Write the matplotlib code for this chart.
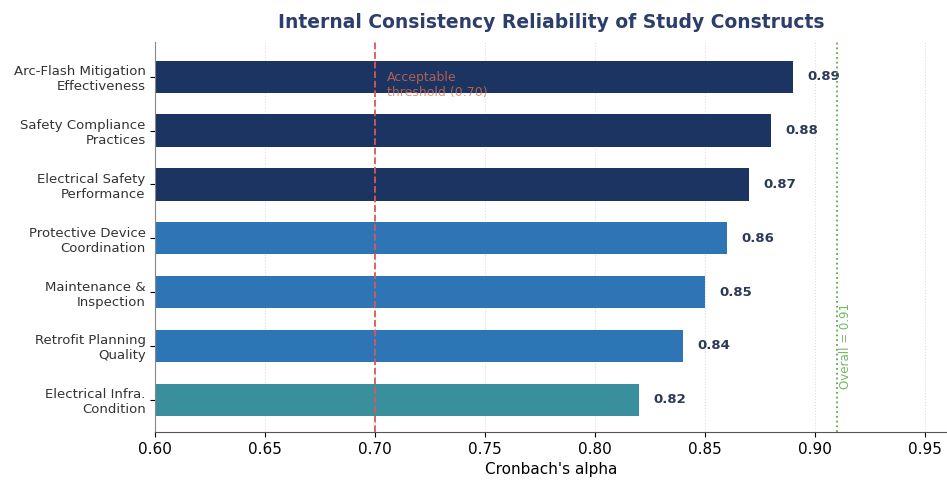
import matplotlib.pyplot as plt

constructs = ['Electrical Infra.\nCondition', 'Retrofit Planning\nQuality', 'Maintenance &\nInspection',
              'Protective Device\nCoordination', 'Electrical Safety\nPerformance', 'Safety Compliance\nPractices',
              'Arc-Flash Mitigation\nEffectiveness']
alphas = [0.82, 0.84, 0.85, 0.86, 0.87, 0.88, 0.89]
bar_colors = ['#3a8f9e', '#2e75b6', '#2e75b6', '#2e75b6', '#1c3461', '#1c3461', '#1c3461']
threshold = 0.70
overall = 0.91

fig = plt.figure(figsize=(9.47, 4.86), dpi=100)
ax = fig.add_axes([0.164, 0.111, 0.836, 0.803])

ax.barh(range(len(alphas)), alphas, height=0.6, color=bar_colors, zorder=2)
for i, v in enumerate(alphas):
    ax.text(v + 0.0065, i, f'{v:.2f}', va='center', ha='left', fontsize=9.5,
            fontweight='bold', color='#2b3a58')

ax.axvline(threshold, color='#e05555', linestyle='--', linewidth=1.3, zorder=3)
ax.text(threshold + 0.0055, 6.1, 'Acceptable\nthreshold (0.70)', color='#e07050',
        fontsize=9, va='top', ha='left', alpha=0.75, zorder=4)
ax.axvline(overall, color='#5aab4a', linestyle=':', linewidth=1.3, zorder=3)
ax.text(overall + 0.0037, 0.2, f'Overall = {overall:.2f}', color='#5aab4a', fontsize=8.5,
        rotation=90, va='bottom', ha='center', alpha=0.85)

ax.set_xlim(0.6, 0.96)
ax.set_ylim(-0.6, 6.65)
ax.set_yticks(range(len(constructs)))
ax.set_yticklabels(constructs, fontsize=9.5, color='#333333')
ax.set_xticks([0.60, 0.65, 0.70, 0.75, 0.80, 0.85, 0.90, 0.95])
ax.tick_params(axis='x', labelsize=11)
ax.set_xlabel("Cronbach's alpha", fontsize=11)
ax.grid(axis='x', color='#dddddd', linestyle=':', linewidth=0.8, zorder=0)
ax.spines['top'].set_visible(False)
ax.spines['right'].set_visible(False)
ax.spines['left'].set_color('#888888')
ax.spines['bottom'].set_color('#555555')

ax.set_title('Internal Consistency Reliability of Study Constructs', fontsize=13.5,
             fontweight='bold', color='#2c3e6b', pad=10)

fig.savefig('out.png', dpi=100)
